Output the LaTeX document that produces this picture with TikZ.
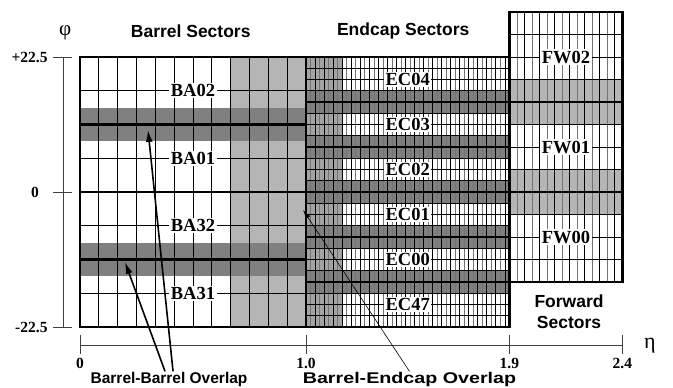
\documentclass[tikz,border=0pt]{standalone}
\usepackage{fontspec}
\setmainfont{Liberation Serif}
\setsansfont{Liberation Sans}
\usetikzlibrary{arrows.meta}
\definecolor{ovdark}{gray}{0.5}
\definecolor{ovlight}{gray}{0.71}
\definecolor{capshade}{gray}{0.64}

\begin{document}
\begin{tikzpicture}[x=226pt,y=6pt,
    sector/.style={fill=white,inner sep=1.5pt,font=\bfseries\fontsize{18.5}{20}\selectfont},
    heading/.style={font=\sffamily\bfseries\fontsize{17.5}{21}\selectfont},
    overlap/.style={font=\sffamily\bfseries\fontsize{15.5}{17}\selectfont,inner sep=1pt},
    ticklab/.style={font=\bfseries\fontsize{15.5}{17}\selectfont},
    grid/.style={line width=0.8pt},
    softgrid/.style={line width=0.6pt,black!55},
    border/.style={line width=2.3pt},
    axis/.style={line width=0.7pt,black!75},
    ovarrow/.style={line width=1.6pt,-{Latex[length=12pt,width=7pt]}},
    thinarrow/.style={line width=0.6pt,-{Latex[length=9pt,width=5pt]}}]
  \useasboundingbox (-80pt,-196pt) rectangle (593pt,192pt);

  % shading: barrel, endcap, forward
  \fill[ovlight] (2/3,-22.5) rectangle (1,22.5);
  \foreach \p in {11.25,-11.25}
    \fill[ovdark] (0,\p-2.8125) rectangle (1,\p+2.8125);
  \fill[capshade] (1,-22.5) rectangle (1.16,22.5);
  \foreach \p in {15,7.5,0,-7.5,-15}
    \fill[ovdark] (1,\p-1.875) rectangle (1.9,\p+1.875);
  \foreach \p in {15,0}
    \fill[ovlight] (1.9,\p-3.75) rectangle (2.4,\p+3.75);

  % barrel grid
  \foreach \k in {1,...,11}
    \draw[grid] (\k/12,-22.5) -- (\k/12,22.5);
  \foreach \p in {-16.875,-5.625,5.625,16.875}
    \draw[grid] (0,\p) -- (1,\p);
  \foreach \p in {-11.25,0,11.25}
    \draw[border] (0,\p) -- (1,\p);

  % endcap grid
  \foreach \k in {1,3,...,43}
    \draw[softgrid] (1+\k*0.02,-22.5) -- (1+\k*0.02,22.5);
  \foreach \k in {2,4,...,44}
    \draw[grid] (1+\k*0.02,-22.5) -- (1+\k*0.02,22.5);
  \foreach \r in {1,...,23}
    \draw[grid] (1,-22.5+\r*1.875) -- (1.9,-22.5+\r*1.875);
  \foreach \p in {-15,-7.5,0,7.5,15}
    \draw[border] (1,\p) -- (1.9,\p);

  % forward grid
  \foreach \k in {1,3,...,13}
    \draw[softgrid] (1.9+\k/30,-15) -- (1.9+\k/30,30);
  \foreach \k in {2,4,...,14}
    \draw[grid] (1.9+\k/30,-15) -- (1.9+\k/30,30);
  \foreach \r in {1,...,11}
    \draw[grid] (1.9,-15+\r*3.75) -- (2.4,-15+\r*3.75);
  \foreach \p in {0,15}
    \draw[border] (1.9,\p) -- (2.4,\p);

  \draw[border] (0,-22.5) rectangle (1,22.5);
  \draw[border] (1,-22.5) rectangle (1.9,22.5);
  \draw[border] (1.9,-15) rectangle (2.4,30);

  % sector names
  \foreach \n/\p in {02/16.875,01/5.625,32/-5.625,31/-16.875}
    \node[sector] (ba\n) at (0.5,\p) {BA\n};
  \foreach \n/\p in {04/18.75,03/11.25,02/3.75,01/-3.75,00/-11.25,47/-18.75}
    \node[sector] (ec\n) at (1.45,\p) {EC\n};
  \foreach \n/\p in {02/22.5,01/7.5,00/-7.5}
    \node[sector] (fw\n) at (2.15,\p) {FW\n};

  \node[heading] (bhead) at (0.49,26.8) {Barrel Sectors};
  \node[heading] (ehead) at (1.43,26.8) {Endcap Sectors};
  \node[heading,align=center] (fhead) at (2.164,-20) {Forward\\Sectors};

  % phi axis
  \draw[axis] (-0.075,-22.5) -- (-0.075,22.5);
  \foreach \p in {-22.5,0,22.5}
    \draw[axis] (-0.119,\p) -- (-0.035,\p);
  \node[ticklab,anchor=east] (phitop) at (-0.128,22.5) {+22.5};
  \node[ticklab] (phimid) at (-0.199,0) {0};
  \node[ticklab,anchor=east] (phibot) at (-0.128,-22.5) {-22.5};
  \node[font=\fontsize{21}{21}\selectfont] (philab) at (-0.066,26.6) {φ};

  % eta axis
  \draw[axis] (0,-25.5) -- (2.4,-25.5);
  \foreach \e/\t in {0/0,1/1.0,1.9/1.9,2.4/2.4}{
    \draw[axis] (\e,-23.8) -- (\e,-27);
    \node[ticklab] (eta\e) at (\e,-28.6) {\t};
  }
  \node[font=\fontsize{22}{22}\selectfont] (etalab) at (2.522,-25.6) {η};

  % overlap pointers
  \node[overlap] (bbover) at (0.394,-31.3) {Barrel-Barrel Overlap};
  \node[overlap] (beover) at (1.458,-31.3) {\scalebox{1.27}[1]{Barrel-Endcap Overlap}};
  \coordinate (bbtipA) at (0.301,10.33);
  \coordinate (bbtipB) at (0.199,-11.67);
  \coordinate (betip) at (0.987,-3);
  \draw[ovarrow] ([xshift=4pt]bbover.north) -- (bbtipA);
  \draw[ovarrow] ([xshift=-4pt]bbover.north) -- (bbtipB);
  \draw[thinarrow] (beover.north) -- (betip);
\end{tikzpicture}
\end{document}
